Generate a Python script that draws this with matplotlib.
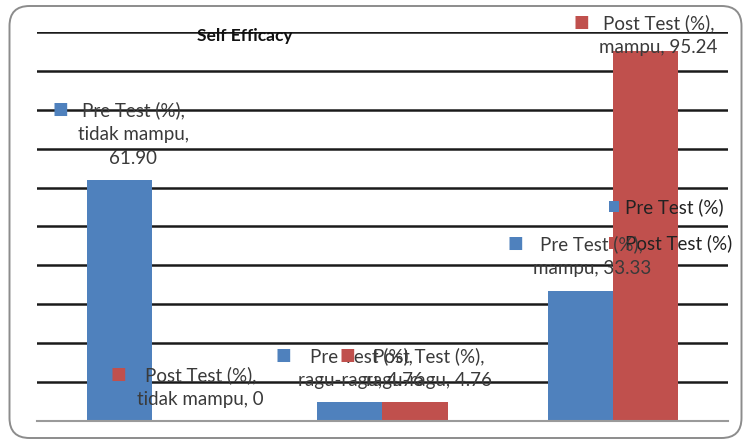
import matplotlib
matplotlib.use("Agg")
import matplotlib.pyplot as plt
from matplotlib.patches import FancyBboxPatch, Patch
import numpy as np

categories = ["tidak mampu", "ragu-ragu", "mampu"]
series_names = ["Pre Test (%)", "Post Test (%)"]
pre_values = [61.90, 4.76, 33.33]
post_values = [0, 4.76, 95.24]
value_labels_pre = ["61.90", "4.76", "33.33"]
value_labels_post = ["0", "4.76", "95.24"]
title = "Self Efficacy"

colors = ["#4F81BD", "#C0504D"]
FONT = "Lato"
W, H = 744, 441
fig = plt.figure(figsize=(W / 100, H / 100), dpi=100)

# rounded outer frame (pixel coordinates)
frame = FancyBboxPatch((9.5, H - 438), 732, 432, boxstyle="round,pad=0,rounding_size=20",
                       transform=None, fill=False, edgecolor="#8c8c8c", linewidth=1.4)
fig.patches.append(frame)

ax = fig.add_axes([37 / W, (H - 421) / H, 691 / W, (421 - 32) / H])
x = np.arange(len(categories))
bw = 0.283
ax.bar(x - bw / 2, pre_values, bw, color=colors[0], zorder=2)
ax.bar(x + bw / 2, post_values, bw, color=colors[1], zorder=2)
ax.set_xlim(-0.5, len(categories) - 0.5)
ax.set_ylim(0, 100)
ax.set_yticks(np.arange(10, 101, 10))
ax.yaxis.grid(True, color="#1a1a1a", linewidth=1.8)
ax.set_axisbelow(True)
ax.tick_params(left=False, bottom=False, labelleft=False, labelbottom=False)
for s in ["top", "right", "left"]:
    ax.spines[s].set_visible(False)
ax.spines["bottom"].set_color("#9a9a9a")
ax.spines["bottom"].set_linewidth(1.5)

fs = 13.5
fig.text(245 / W, 1 - 36 / H, title, ha="center", va="center", fontsize=12.5,
         fontweight="bold", family=FONT, color="#111111", zorder=5)

# data label placement, pixels relative to bar top centre:
# (text centre dx, text centre dy, square dx, square dy)
label_style = {
    (0, 0): (13.5, 46, -59.5, 71),
    (1, 0): (15.5, 33.5, -66.5, 47),
    (0, 1): (11.5, 34.5, -66.5, 47.5),
    (1, 1): (14, 34.5, -68, 47.5),
    (0, 2): (11.5, 35, -64.5, 48),
    (1, 2): (13, 15.5, -64, 29),
}
wrap = {(0, 0): True}
tc = "#3a3a3a"
for si, vals in enumerate([pre_values, post_values]):
    vlabels = [value_labels_pre, value_labels_post][si]
    for ci, v in enumerate(vals):
        xc = x[ci] + (-bw / 2 if si == 0 else bw / 2)
        dx, dy, sqx, sqy = label_style[(si, ci)]
        if wrap.get((si, ci)):
            txt = f"{series_names[si]},\n{categories[ci]},\n{vlabels[ci]}"
        else:
            txt = f"{series_names[si]},\n{categories[ci]}, {vlabels[ci]}"
        ax.annotate(txt, (xc, v), xytext=(dx, dy), textcoords="offset pixels",
                    ha="center", va="center", fontsize=fs, family=FONT, color=tc,
                    linespacing=1.5, zorder=6, annotation_clip=False)
        ax.annotate("\u25A0", (xc, v), xytext=(sqx, sqy), textcoords="offset pixels",
                    ha="center", va="center", fontsize=12, family="DejaVu Sans",
                    color=colors[si], zorder=6, annotation_clip=False)

handles = [Patch(facecolor=c, edgecolor="none") for c in colors]
ax.legend(handles, series_names, loc="upper left", bbox_to_anchor=(609 / W, 1 - 198 / H),
          bbox_transform=fig.transFigure, frameon=False,
          prop={"family": FONT, "size": fs}, handlelength=0.55, handleheight=0.55,
          handletextpad=0.3, labelspacing=1.0, borderpad=0, borderaxespad=0,
          labelcolor="#222222")

fig.savefig("out.png", dpi=100)
